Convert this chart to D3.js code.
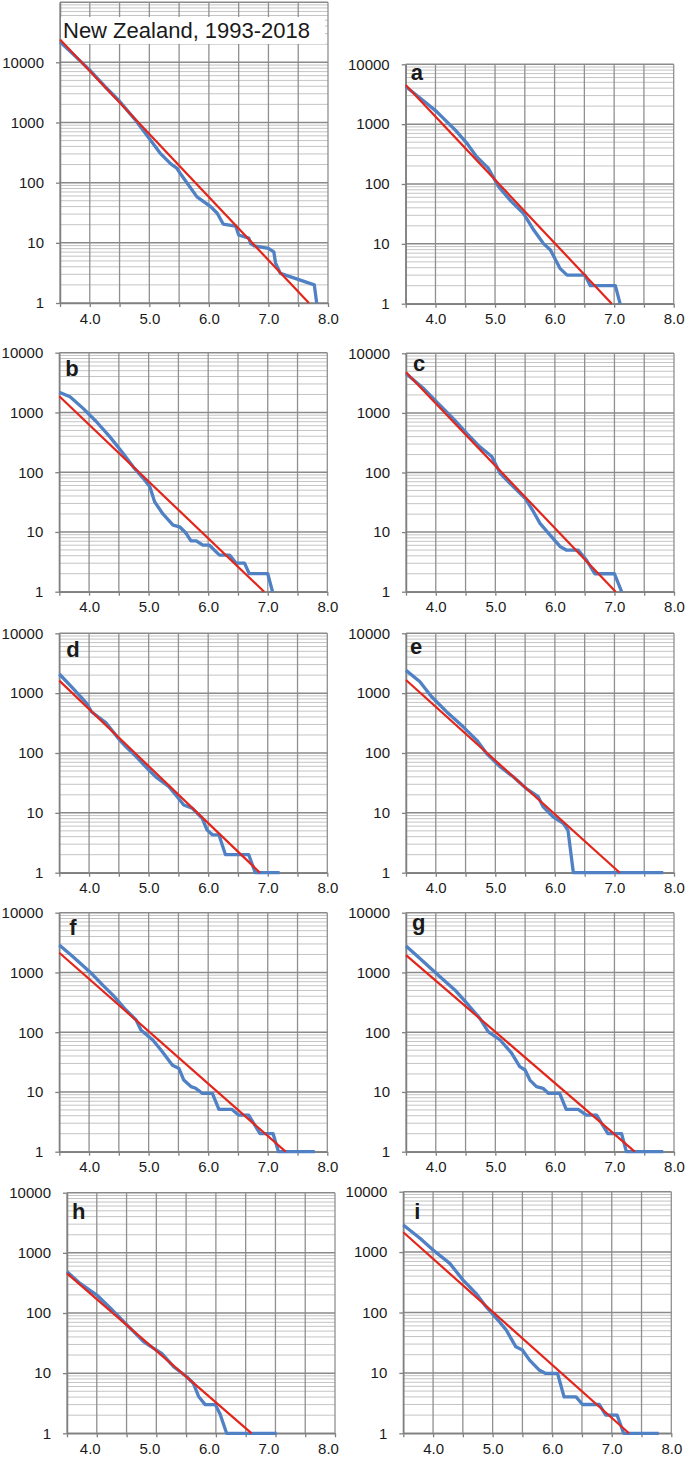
<!DOCTYPE html>
<html>
<head>
    <title>Gutenberg-Richter panels</title>
    <script src="https://d3js.org/d3.v7.min.js"></script>
    <style>
        body { margin: 0; background: #fff; }
        text { font-family: "Liberation Sans", Arial, Helvetica, sans-serif; }
    </style>
</head>
<body>
<script>
    var w = 685;
    var h = 1459;

    // panel names, in reading order
    var panelNames = ["NZ", "a", "b", "c", "d", "e", "f", "g", "h", "i"];
    var titleText = "New Zealand, 1993-2018";
    var xTicks = [3.5, 4.0, 4.5, 5.0, 5.5, 6.0, 6.5, 7.0, 7.5, 8.0];
    var yLabels = [1, 10, 100, 1000, 10000];

    // cumulative counts N(>=M)
    var curveNZ = [[3.5,22000],[3.75,12800],[4.0,7400],[4.25,4000],[4.5,2250],[4.75,1150],[4.99,560],
                   [5.18,310],[5.36,205],[5.46,175],[5.52,142],[5.8,58],[6.03,40],[6.14,31],
                   [6.24,20.5],[6.45,19],[6.5,13.5],[6.67,12],[6.7,9.8],[6.76,8.9],[7.0,8.1],[7.09,7.1],
                   [7.12,4.6],[7.2,3.1],[7.77,2],[7.81,1]];
    var curveA = [[3.5,4250],[3.85,2230],[4.02,1620],[4.33,800],[4.53,477],[4.69,286],[4.89,182],[5.06,90],
                  [5.25,54],[5.48,32],[5.65,17],[5.81,10.2],[5.93,7.9],[6.09,3.9],[6.21,3],[6.51,3],
                  [6.6,2],[7.02,2],[7.1,1]];
    var curveB = [[3.5,2180],[3.68,1830],[3.9,1170],[4.12,706],[4.35,390],[4.57,207],[4.74,123],[4.91,79],
                  [5.02,57],[5.1,32],[5.24,20],[5.41,13],[5.52,12.2],[5.63,9.5],[5.71,7.1],[5.8,7.1],
                  [5.91,6],[6.02,6],[6.19,4.1],[6.36,4.1],[6.47,3],[6.61,3],[6.69,2],[7.0,2],[7.08,1]];
    var curveC = [[3.5,4600],[3.79,2600],[4.01,1550],[4.29,810],[4.52,455],[4.74,270],[4.94,185],[5.08,97],
                  [5.3,58],[5.5,37],[5.64,22],[5.75,14],[5.92,8.9],[6.09,5.7],[6.19,5],[6.39,5],
                  [6.53,3.4],[6.67,2],[7.0,2],[7.12,1]];
    var curveD = [[3.5,2090],[3.73,1200],[3.96,676],[4.04,490],[4.29,315],[4.51,166],[4.59,136],[4.79,87],
                  [4.98,55],[5.12,40],[5.34,27.4],[5.48,18.6],[5.59,13.5],[5.73,12],[5.9,8.1],[5.98,5.2],
                  [6.07,4.3],[6.18,4.3],[6.29,2],[6.68,2],[6.79,1],[7.2,1]];
    var curveE = [[3.5,2400],[3.73,1560],[3.93,870],[4.18,490],[4.46,274],[4.69,163],[4.85,99],[5.08,59],
                  [5.3,40],[5.52,25.5],[5.72,18.6],[5.8,12.7],[5.97,8.6],[6.14,6.7],[6.22,5.1],[6.31,1],
                  [7.82,1]];
    var curveF = [[3.5,2870],[3.73,1830],[4.01,1030],[4.23,615],[4.4,418],[4.62,235],[4.79,160],[4.87,109],
                  [5.07,74],[5.23,47],[5.4,28],[5.51,24.6],[5.59,15.8],[5.71,12.3],[5.79,11.5],[5.9,9.5],
                  [6.07,9.5],[6.18,5.1],[6.4,5.1],[6.51,4.1],[6.68,4.1],[6.87,2],[7.09,2],[7.18,1],[7.79,1]];
    var curveG = [[3.5,2770],[3.73,1730],[4.01,960],[4.32,510],[4.55,283],[4.74,170],[4.88,102],[5.08,74],
                  [5.27,45],[5.41,26.6],[5.5,23.3],[5.58,15.8],[5.69,12.3],[5.8,11.5],[5.89,9.5],[6.08,9.5],
                  [6.19,5.1],[6.39,5.1],[6.53,4.1],[6.7,4.1],[6.89,2],[7.12,2],[7.2,1],[7.82,1]];
    var curveH = [[3.5,487],[3.72,310],[4.0,199],[4.23,120],[4.51,63],[4.79,33],[4.95,26],[5.09,21.3],
                  [5.29,12.8],[5.51,8.7],[5.62,6.8],[5.71,4.1],[5.82,3],[5.99,3],[6.07,2.1],[6.18,1],
                  [7.02,1]];
    var curveI = [[3.5,2810],[3.78,1690],[4.0,1080],[4.28,650],[4.5,347],[4.72,208],[4.89,125],[5.09,75],
                  [5.23,51],[5.39,27],[5.5,24],[5.62,16.3],[5.78,11.2],[5.89,9.8],[6.09,9.8],[6.2,4],
                  [6.4,4],[6.51,3],[6.79,3],[6.9,2],[7.09,2],[7.2,1],[7.79,1]];

    // fitted Gutenberg-Richter lines (red), as two end points [M, N]
    var fitNZ = [[3.5,24000],[7.68,1]];
    var fitA  = [[3.5,4500],[6.96,1]];
    var fitB  = [[3.5,1870],[6.94,1]];
    var fitC  = [[3.5,4800],[7.02,1]];
    var fitD  = [[3.5,1620],[6.87,1]];
    var fitE  = [[3.5,1660],[7.09,1]];
    var fitF  = [[3.5,2140],[7.30,1]];
    var fitG  = [[3.5,1950],[7.34,1]];
    var fitH  = [[3.5,457],[6.60,1]];
    var fitI  = [[3.5,2130],[7.29,1]];

    var curves = [curveNZ, curveA, curveB, curveC, curveD, curveE, curveF, curveG, curveH, curveI];
    var fits = [fitNZ, fitA, fitB, fitC, fitD, fitE, fitF, fitG, fitH, fitI];

    // where each panel sits: left axis x, y of N=1, y of N=10000, top value, letter offset, label shift
    var layout = [
        {x0: 60,    y1: 303,    y4: 62.3,   top: 100000, lx: 0,  ly: 0,  shift: 0},
        {x0: 405.7, y1: 303.7,  y4: 64.3,   top: 10000,  lx: 5,  ly: 16, shift: 0},
        {x0: 59.3,  y1: 591.7,  y4: 352.7,  top: 10000,  lx: 6,  ly: 23, shift: 0},
        {x0: 406,   y1: 591.7,  y4: 353.3,  top: 10000,  lx: 7,  ly: 18, shift: 0},
        {x0: 59.3,  y1: 872.7,  y4: 633.3,  top: 10000,  lx: 7,  ly: 24, shift: 0},
        {x0: 406,   y1: 872.7,  y4: 633.3,  top: 10000,  lx: 4,  ly: 21, shift: 0},
        {x0: 59.3,  y1: 1151.7, y4: 912.7,  top: 10000,  lx: 10, ly: 22, shift: 0},
        {x0: 406,   y1: 1151.7, y4: 912.7,  top: 10000,  lx: 6,  ly: 17, shift: 0},
        {x0: 67,    y1: 1433.3, y4: 1192.7, top: 10000,  lx: 5,  ly: 26, shift: -7},
        {x0: 403.3, y1: 1433.3, y4: 1191.7, top: 10000,  lx: 11, ly: 27, shift: 0}
    ];
    var plotW = 268;

    var svg = d3.select("body")
                .append("svg")
                .attr("width", w)
                .attr("height", h);

    panelNames.forEach(function(name, i) {
        var L = layout[i];
        var decade = (L.y1 - L.y4) / 4;
        var xScale = d3.scaleLinear().domain([3.5, 8.0]).range([L.x0, L.x0 + plotW]);
        var yTopPx = L.y1 - decade * Math.log10(L.top);
        var yScale = d3.scaleLog().domain([1, L.top]).range([L.y1, yTopPx]);
        var g = svg.append("g");

        //horizontal grid: minor lines then decades
        var minor = [];
        var major = [];
        for (var k = 0; k < Math.log10(L.top); k++) {
            for (var m = 1; m <= 9; m++) {
                var v = m * Math.pow(10, k);
                if (m === 1) major.push(v); else minor.push(v);
            }
        }
        major.push(L.top);
        g.selectAll(".minor").data(minor).enter().append("line")
            .attr("x1", L.x0).attr("x2", L.x0 + plotW)
            .attr("y1", function(d){return yScale(d);})
            .attr("y2", function(d){return yScale(d);})
            .attr("stroke", "#c4c4c4").attr("stroke-width", 1);
        g.selectAll(".vgrid").data(xTicks).enter().append("line")
            .attr("x1", function(d){return xScale(d);})
            .attr("x2", function(d){return xScale(d);})
            .attr("y1", yTopPx).attr("y2", L.y1)
            .attr("stroke", "#909090").attr("stroke-width", 1.3);
        g.selectAll(".major").data(major).enter().append("line")
            .attr("x1", L.x0).attr("x2", L.x0 + plotW)
            .attr("y1", function(d){return yScale(d);})
            .attr("y2", function(d){return yScale(d);})
            .attr("stroke", "#8a8a8a").attr("stroke-width", 1.5);

        //axes
        var xAxis = d3.axisBottom(xScale)
                      .tickValues(xTicks)
                      .tickSize(4).tickSizeOuter(0).tickPadding(6)
                      .tickFormat(function(d){return (Math.round(d * 10) % 10 === 0) ? d.toFixed(1) : "";});
        var xg = g.append("g").attr("transform", "translate(0," + L.y1 + ")").call(xAxis);
        xg.selectAll("text").attr("dx", L.shift);
        var yAxis = d3.axisLeft(yScale)
                      .tickValues(yLabels)
                      .tickSize(4).tickSizeOuter(0).tickPadding(12)
                      .tickFormat(d3.format("d"));
        var yg = g.append("g").attr("transform", "translate(" + L.x0 + ",0)").call(yAxis);
        [xg, yg].forEach(function(a) {
            a.select(".domain").attr("stroke", "#808080").attr("stroke-width", 1.5);
            a.selectAll(".tick line").attr("stroke", "#808080").attr("stroke-width", 1.3);
            a.selectAll("text").attr("font-size", "15px").attr("fill", "#1a1a1a")
             .attr("font-family", "'Liberation Sans', Arial, sans-serif");
        });

        //title or panel letter
        if (name === "NZ") {
            g.append("rect").attr("x", L.x0 + 1).attr("y", 17)
                .attr("width", 264).attr("height", 27).attr("fill", "#fff");
            g.append("text").attr("x", L.x0 + 3).attr("y", 38)
                .attr("font-size", "22px").attr("fill", "#1a1a1a")
                .text(titleText);
        } else {
            g.append("text").attr("x", L.x0 + L.lx).attr("y", L.y4 + L.ly)
                .attr("font-size", "22px").attr("font-weight", "bold").attr("fill", "#1a1a1a")
                .text(name);
        }

        var line = d3.line()
                     .x(function(d){return xScale(d[0]);})
                     .y(function(d){return yScale(d[1]);});
        g.append("path").datum(curves[i])
            .attr("d", line).attr("fill", "none")
            .attr("stroke", "#4f81c4").attr("stroke-width", 3.3)
            .attr("stroke-linejoin", "round");
        g.append("path").datum(fits[i])
            .attr("d", line).attr("fill", "none")
            .attr("stroke", "#e3261b").attr("stroke-width", 2.2);
    });
</script>
</body>
</html>
